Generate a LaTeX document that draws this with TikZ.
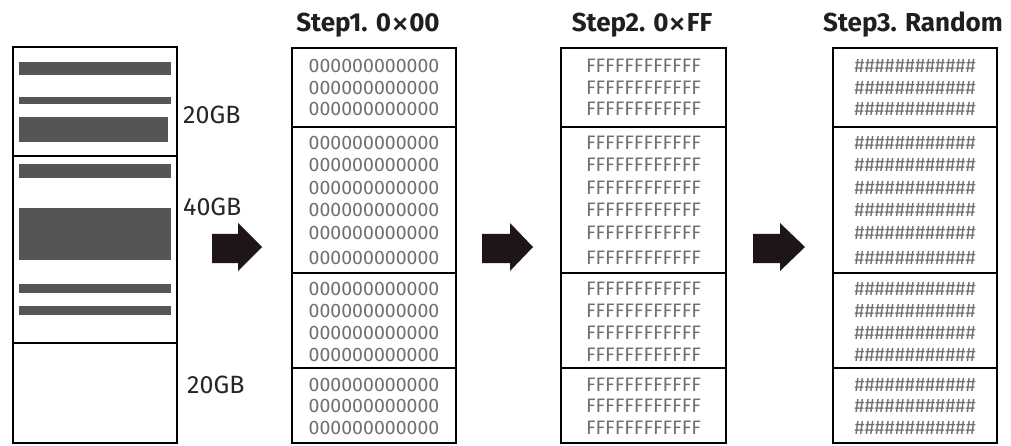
\documentclass[tikz,border=0pt]{standalone}
\usepackage{graphicx}
\usepackage{fontspec}
\setmainfont{Fira Sans}
\newcommand{\bigtimes}{\raisebox{-0.13em}{\scalebox{1.4}{\mdseries\texttimes}}}
\begin{document}
\begin{tikzpicture}[x=1pt,y=-1pt,
  frame/.style={draw=black,line width=1.6pt},
  bar/.style={fill=barcol},
  heading/.style={font=\fontsize{26}{28}\selectfont\bfseries,text=black!88,inner sep=0pt,anchor=base},
  sizelabel/.style={font=\fontsize{25}{28}\selectfont,text=black!85,inner sep=0pt,anchor=base west},
  cell/.style={font=\fontsize{19.5}{22}\selectfont,text=cellcol,inner sep=0pt,anchor=base},
  bigarrow/.style={fill=arrowcol}]
\definecolor{barcol}{HTML}{555555}
\definecolor{cellcol}{HTML}{707070}
\definecolor{arrowcol}{HTML}{1E1616}
\useasboundingbox (0,0) rectangle (1011,446);
\fill[white] (0,0) rectangle (1011,446);

% --- original disk with scattered data ---
\draw[frame] (13,47) rectangle (177,443);
\draw[frame] (13,156) -- (177,156);
\draw[frame] (13,343) -- (177,343);
\fill[bar] (19,62) rectangle (171,75);
\fill[bar] (19,97) rectangle (171,104);
\fill[bar] (19,117) rectangle (168,142);
\fill[bar] (19,164) rectangle (171,178);
\fill[bar] (19,208) rectangle (171,260);
\fill[bar] (19,284) rectangle (171,293);
\fill[bar] (19,306) rectangle (171,315);
\node[sizelabel] (gbA) at (183,124) {20GB};
\node[sizelabel] (gbB) at (183,215.5) {40GB};
\node[sizelabel] (gbC) at (187,393.5) {20GB};

% --- block arrows between stages ---
\foreach \xa/\xh/\xb in {212/238/262, 482/510/533, 753/780/805}{
  \fill[bigarrow] (\xa,234) -- (\xh,234) -- (\xh,223) -- (\xb,247)
     -- (\xh,271) -- (\xh,263) -- (\xa,263) -- cycle;
}

% --- overwrite passes ---
\foreach \col/\xl/\xr/\tx/\title/\pat in {
   1/292/456/368/{Step1. 0\bigtimes00}/000000000000,
   2/561/726/642/{Step2. 0\bigtimes FF}/FFFFFFFFFFFF,
   3/833/997/913/{Step3. Random}/\#\#\#\#\#\#\#\#\#\#\#\#}{
  \node[heading] (title\col) at (\tx,32) {\title};
  \draw[frame] (\xl,48) rectangle (\xr,443);
  \foreach \yy in {127,273,368} \draw[frame] (\xl,\yy) -- (\xr,\yy);
  \pgfmathsetmacro{\xc}{(\xl+\xr)/2}
  \foreach \yy [count=\r] in {66,87.5,109,142.5,165,187.5,210,233,257,288,310,332.5,354,384,405.5,427}
    \node[cell] (c\col r\r) at (\xc,\yy+7) {\pat};
}
\end{tikzpicture}
\end{document}
